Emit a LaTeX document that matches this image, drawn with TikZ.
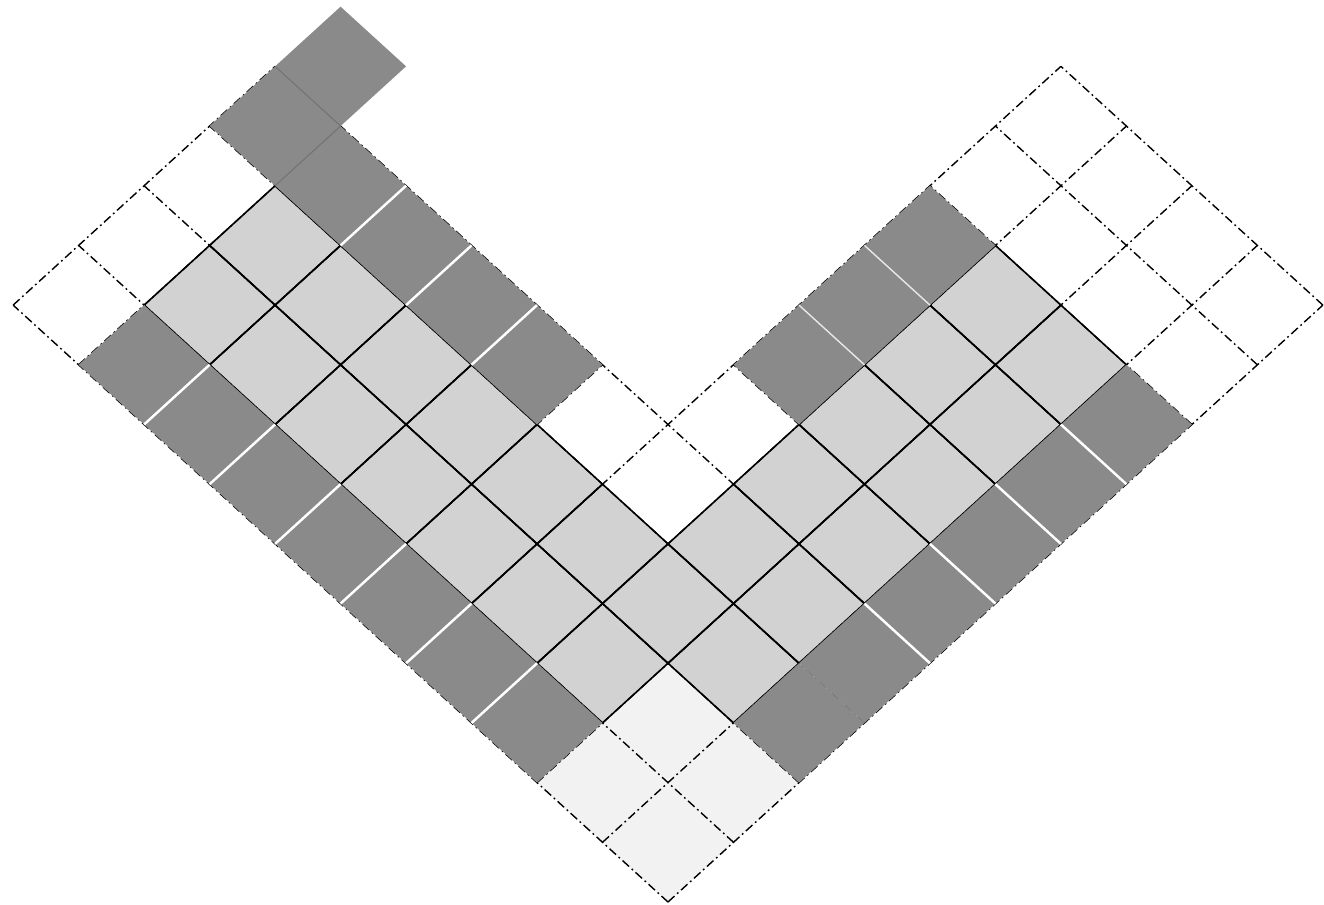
\documentclass[tikz,border=0pt]{standalone}
\definecolor{darkc}{RGB}{138,138,138}
\definecolor{lightc}{RGB}{210,210,210}
\definecolor{vlightc}{RGB}{242,242,242}
\tikzset{
  dashcell/.style={draw=black, line width=0.8pt, dash pattern=on 5pt off 2pt on 1pt off 2pt},
  solidcell/.style={draw=black, line width=0.9pt},
  sepline/.style={draw=white, line width=1.4pt},
  faintsep/.style={draw=black!55, line width=0.6pt},
}
\begin{document}
\begin{tikzpicture}[x=0.02cm,y=-0.02cm]
\useasboundingbox (0,0) rectangle (1324,905);
\begin{scope}[shift={(668,902)}, x={(1.31cm,1.194cm)}, y={(-1.31cm,1.194cm)}]
  % fills of the dashed diagram
  \foreach \i/\j in {0/0,1/0,0/1,1/1}
    \fill[vlightc] (\i,\j) -- ++(1,0) -- ++(0,1) -- ++(-1,0) -- cycle;
  \foreach \i/\j in {1/2,1/3,1/4,1/5,1/6,1/7,1/8,2/1,2/2,2/3,2/4,2/5,2/6,2/7,2/8,3/1,3/2,4/1,4/2,5/1,5/2,6/1,6/2,7/1,7/2}
    \fill[lightc] (\i,\j) -- ++(1,0) -- ++(0,1) -- ++(-1,0) -- cycle;
  % dashed grid of the diagram, each line drawn once
  \foreach \j in {0,...,4} \path[dashcell] (0,\j) -- (10,\j);
  \foreach \j in {5,...,10} \path[dashcell] (0,\j) -- (4,\j);
  \foreach \i in {0,...,4} \path[dashcell] (\i,0) -- (\i,10);
  \foreach \i in {5,...,10} \path[dashcell] (\i,0) -- (\i,4);
  % solid outlines of light cells
  \foreach \i/\j in {1/2,1/3,1/4,1/5,1/6,1/7,1/8,2/1,2/2,2/3,2/4,2/5,2/6,2/7,2/8,3/1,3/2,4/1,4/2,5/1,5/2,6/1,6/2,7/1,7/2}
    \path[solidcell] (\i,\j) -- ++(1,0) -- ++(0,1) -- ++(-1,0) -- cycle;
  % dark cells
  \foreach \i/\j in {2/0,3/0,4/0,5/0,6/0,7/0,0/2,0/3,0/4,0/5,0/6,0/7,0/8,3/5,3/6,3/7,3/8,3/9,4/9,5/3,6/3,7/3}
    \fill[darkc] (\i,\j) -- ++(1,0) -- ++(0,1) -- ++(-1,0) -- cycle;
  % separators between dark cells
  \foreach \i in {4,...,7} \path[sepline] (\i,0) -- (\i,1);
  \foreach \j in {3,...,8} \path[sepline] (0,\j) -- (1,\j);
  \foreach \j in {6,7,8} \path[sepline] (3,\j) -- (4,\j);
  \path[faintsep] (3,9) -- (4,9);
  \path[faintsep] (4,9) -- (4,10);
  \foreach \i in {6,7} \path[draw=white!80!darkc, line width=0.8pt] (\i,3) -- (\i,4);
\end{scope}
\end{tikzpicture}
\end{document}
